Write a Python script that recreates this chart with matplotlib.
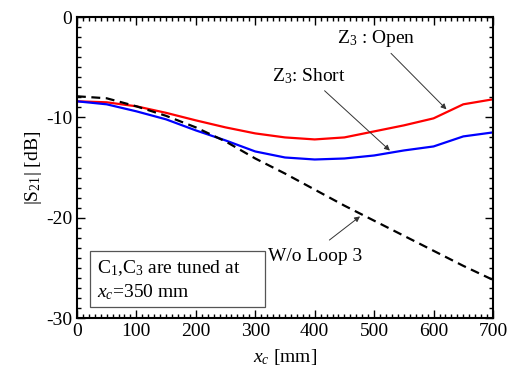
import numpy as np
import matplotlib.pyplot as plt
from matplotlib.ticker import MultipleLocator
from matplotlib.patches import Rectangle

plt.rcParams['font.family'] = ['Liberation Serif', 'DejaVu Serif']
plt.rcParams['mathtext.fontset'] = 'custom'
plt.rcParams['mathtext.rm'] = 'Liberation Serif'
plt.rcParams['mathtext.it'] = 'Liberation Serif:italic'
plt.rcParams['axes.unicode_minus'] = False

xc = [0, 50, 100, 150, 200, 250, 300, 350, 400, 450, 500, 550, 600, 650, 700]
s21_open = [-8.4, -8.5, -8.9, -9.55, -10.3, -11.0, -11.6, -12.0, -12.2, -12.0,
            -11.4, -10.8, -10.1, -8.7, -8.2]
s21_short = [-8.4, -8.7, -9.4, -10.2, -11.3, -12.3, -13.4, -14.0, -14.2, -14.1,
             -13.8, -13.3, -12.9, -11.9, -11.5]
s21_noloop = [-7.9, -8.1, -8.9, -9.85, -11.0, -12.4, -14.1, -15.6, -17.2, -18.8,
              -20.3, -21.8, -23.3, -24.8, -26.2]

fig = plt.figure(figsize=(5.13, 3.70), dpi=100)
ax = fig.add_axes([0.150, 0.1405, 0.811, 0.8135])

ax.plot(xc, s21_open, color='#ff0000', lw=1.6)
ax.plot(xc, s21_short, color='#0000ff', lw=1.6)
ax.plot(xc, s21_noloop, color='black', lw=1.6, ls=(0, (4, 2.5)))

ax.set_xlim(0, 700)
ax.set_ylim(-30, 0)
ax.xaxis.set_major_locator(MultipleLocator(100))
ax.xaxis.set_minor_locator(MultipleLocator(10))
ax.yaxis.set_major_locator(MultipleLocator(10))
ax.yaxis.set_minor_locator(MultipleLocator(1))
ax.tick_params(which='both', direction='in', top=True, right=True, labelsize=14, width=1)
ax.tick_params(which='major', length=6)
ax.tick_params(which='minor', length=3)
for s in ax.spines.values():
    s.set_linewidth(1.5)

ax.set_xlabel('$x_c$ [mm]', fontsize=14, labelpad=5)
ax.set_ylabel('|S$_{21}$| [dB]', fontsize=14, labelpad=1)

arw = dict(arrowstyle='-|>', color='#333333', lw=0.7, mutation_scale=8)
ax.annotate('Z$_3$ : Open', xy=(625, -9.4), xytext=(503, -2.1),
            fontsize=14, ha='center', va='center', arrowprops=arw)
ax.annotate('Z$_3$: Short', xy=(530, -13.5), xytext=(390, -5.9),
            fontsize=14, ha='center', va='center', arrowprops=arw)
ax.text(322, -23.9, 'W/o Loop 3', fontsize=14, ha='left', va='center')
ax.annotate('', xy=(480, -19.7), xytext=(421, -22.4), arrowprops=arw)

ax.add_patch(Rectangle((22, -28.9), 294, 5.6, fc='white', ec='#555555', lw=0.9))
ax.text(34, -25.0, 'C$_1$,C$_3$ are tuned at', fontsize=14, ha='left', va='center')
ax.text(34, -27.4, '$x_c$=350 mm', fontsize=14, ha='left', va='center')

fig.savefig('out.png', dpi=100)
